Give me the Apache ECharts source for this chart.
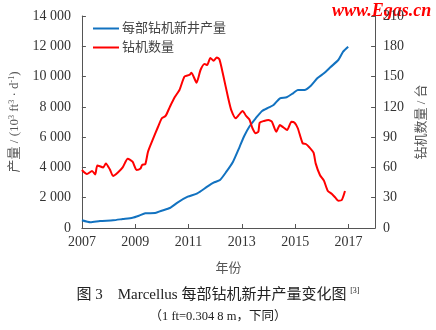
<!DOCTYPE html>
<html><head><meta charset="utf-8">
<script src="https://cdn.jsdelivr.net/npm/echarts@6/dist/echarts.min.js"></script>
<style>html,body{margin:0;padding:0;background:#fff}#c{width:436px;height:330px}</style>
</head><body><div id="c"></div>
<script>
const xTicks = [2007, 2009, 2011, 2013, 2015, 2017];
const leftTicks = [0, 2000, 4000, 6000, 8000, 10000, 12000, 14000];
const rightTicks = [0, 30, 60, 90, 120, 150, 180, 210];

const prodYears = [2007.0, 2007.32, 2007.68, 2008.17, 2008.53, 2008.9, 2009.14, 2009.38, 2009.75, 2009.99, 2010.3, 2010.6, 2010.97, 2011.33, 2011.7, 2011.94, 2012.18, 2012.42, 2012.67, 2012.91, 2013.09, 2013.28, 2013.52, 2013.76, 2014.0, 2014.19, 2014.43, 2014.68, 2014.92, 2015.1, 2015.35, 2015.59, 2015.83, 2016.08, 2016.32, 2016.62, 2016.8, 2016.99];
const prodValues = [508, 376, 462, 508, 594, 680, 812, 970, 990, 1143, 1320, 1697, 2067, 2290, 2727, 2992, 3170, 3718, 4378, 5330, 6076, 6690, 7244, 7727, 7945, 8123, 8565, 8631, 8895, 9113, 9113, 9398, 9885, 10216, 10612, 11094, 11643, 11973];

const rigYears = [2007.0, 2007.19, 2007.38, 2007.5, 2007.58, 2007.8, 2007.9, 2008.05, 2008.17, 2008.35, 2008.53, 2008.72, 2008.9, 2009.05, 2009.2, 2009.26, 2009.38, 2009.48, 2009.65, 2009.85, 2010.0, 2010.14, 2010.3, 2010.48, 2010.66, 2010.85, 2011.03, 2011.11, 2011.3, 2011.45, 2011.6, 2011.7, 2011.82, 2011.94, 2012.06, 2012.16, 2012.3, 2012.49, 2012.6, 2012.77, 2012.89, 2013.03, 2013.16, 2013.28, 2013.4, 2013.52, 2013.62, 2013.67, 2013.83, 2014.0, 2014.13, 2014.29, 2014.43, 2014.55, 2014.7, 2014.86, 2014.98, 2015.1, 2015.28, 2015.4, 2015.53, 2015.69, 2015.77, 2015.93, 2016.08, 2016.22, 2016.38, 2016.5, 2016.62, 2016.75, 2016.87];
const rigValues = [57.5, 53.5, 56.5, 53, 62, 60, 64, 58, 51.5, 55, 60, 68.6, 65.7, 57.5, 59, 62.4, 63.4, 75.6, 87, 99.8, 108.7, 111, 120, 129.5, 136.7, 150, 151.6, 153.8, 144, 156.5, 162.5, 161.5, 168.5, 165.7, 169, 167, 151.6, 128.5, 117, 108.7, 112, 116, 111, 107.7, 98.8, 93.8, 95.4, 104.3, 106, 107, 105.3, 95.4, 102, 99.8, 97, 105.3, 104.3, 98.8, 84, 83.2, 80, 74.6, 64, 52.5, 46.9, 37, 33.7, 30.4, 27, 27.7, 36.6];

const seriesNames = ['每部钻机新井产量', '钻机数量'];
const FONT = '"Liberation Serif", "Noto Sans CJK SC", serif';
const AX = '#555';

const chart = echarts.init(document.getElementById('c'), null, {renderer: 'canvas'});
const fmt = v => { const s = String(v); return s.length > 3 ? s.slice(0, s.length - 3) + ' ' + s.slice(-3) : s; };

chart.setOption({
  animation: false,
  textStyle: {fontFamily: FONT},
  grid: {left: 78, top: 16, width: 301, height: 212, containLabel: false},
  legend: {
    orient: 'vertical', left: 88, top: 17, itemGap: 6,
    icon: 'rect', itemWidth: 26, itemHeight: 2,
    textStyle: {fontFamily: FONT, fontSize: 13, color: '#444', padding: [0, 0, 0, -2]},
    data: seriesNames
  },
  xAxis: {
    type: 'value', min: 2007, max: 2018, interval: 2,
    axisLine: {lineStyle: {color: AX, width: 1}},
    axisTick: {inside: true, length: 4, lineStyle: {color: AX}},
    splitLine: {show: false},
    axisLabel: {color: '#333', fontSize: 14, fontFamily: FONT, margin: 7,
      formatter: v => xTicks.includes(v) ? String(v) : ''},
    name: '年份', nameLocation: 'middle', nameGap: 34,
    nameTextStyle: {fontSize: 13, color: '#555', fontFamily: FONT}
  },
  yAxis: [{
    type: 'value', min: 0, max: 14000, interval: 2000,
    axisLine: {show: true, lineStyle: {color: AX}},
    axisTick: {show: true, inside: true, length: 4, lineStyle: {color: AX}},
    splitLine: {show: false},
    axisLabel: {color: '#333', fontSize: 14, fontFamily: FONT, margin: 11,
      formatter: v => leftTicks.includes(v) ? fmt(v) : ''},
    name: '产量 / (10{s|3} ft{s|3} · d{s|-1})', nameLocation: 'middle', nameGap: 55, nameRotate: 90,
    nameTextStyle: {fontSize: 13, color: '#555', fontFamily: FONT,
      rich: {s: {fontSize: 8, verticalAlign: 'top', color: '#555', fontFamily: FONT, padding: [0, 0, 6, 0]}}}
  }, {
    type: 'value', min: 0, max: 210, interval: 30, position: 'right',
    axisLine: {show: true, lineStyle: {color: AX}},
    axisTick: {show: true, inside: true, length: 4, lineStyle: {color: AX}},
    splitLine: {show: false},
    axisLabel: {color: '#333', fontSize: 14, fontFamily: FONT, margin: 8,
      formatter: v => rightTicks.includes(v) ? String(v) : ''},
    name: '钻机数量 / 台', nameLocation: 'middle', nameGap: 36, nameRotate: 90,
    nameTextStyle: {fontSize: 13, color: '#555', fontFamily: FONT}
  }],
  series: [{
    name: seriesNames[0], type: 'line', yAxisIndex: 0, showSymbol: false, smooth: 0.2,
    lineStyle: {color: '#1272c0', width: 2}, itemStyle: {color: '#1272c0'},
    data: prodYears.map((x, i) => [x, prodValues[i]])
  }, {
    name: seriesNames[1], type: 'line', yAxisIndex: 1, showSymbol: false, smooth: 0.2,
    lineStyle: {color: '#ff0000', width: 2}, itemStyle: {color: '#ff0000'},
    data: rigYears.map((x, i) => [x, rigValues[i]])
  }],
  graphic: [{
    type: 'text', left: 332, top: 2,
    style: {text: 'www.Egas.cn', fill: '#ff0000', font: 'italic bold 18px "Liberation Serif", serif'}
  }, {
    type: 'text', left: 'center', top: 287,
    style: {
      text: '图 3　Marcellus 每部钻机新井产量变化图 {s|[3]}',
      fill: '#222', font: '15px ' + FONT,
      rich: {s: {fontSize: 8, verticalAlign: 'top', fill: '#222', padding: [0, 0, 9, 0], fontFamily: FONT}}
    }
  }, {
    type: 'text', left: 'center', top: 310,
    style: {text: '（1 ft=0.304 8 m，下同）', fill: '#222', font: '12.5px ' + FONT}
  }]
});
</script></body></html>
